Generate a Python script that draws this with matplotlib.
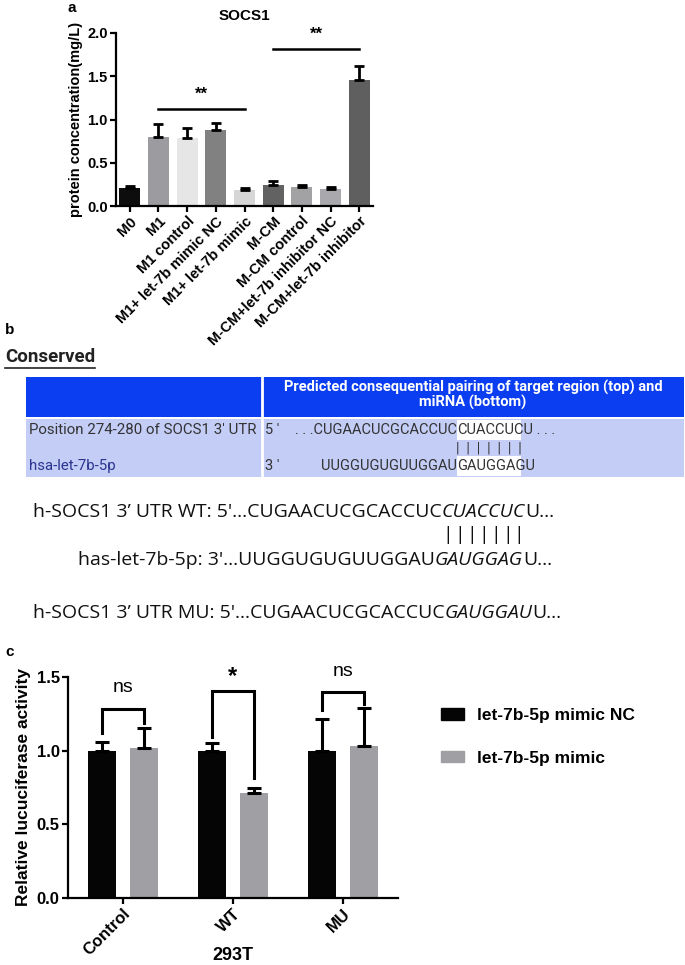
import numpy as np
import matplotlib
matplotlib.use('Agg')
import matplotlib.pyplot as plt
from matplotlib.patches import Rectangle, Patch

W, H = 685, 965

# panel a: SOCS1 protein
groups_a = ['M0', 'M1', 'M1 control', 'M1+ let-7b mimic NC', 'M1+ let-7b mimic',
            'M-CM', 'M-CM control', 'M-CM+let-7b inhibitor NC', 'M-CM+let-7b inhibitor']
socs1_mean = [0.21, 0.80, 0.79, 0.88, 0.19, 0.24, 0.22, 0.20, 1.46]
socs1_err = [0.02, 0.15, 0.11, 0.08, 0.02, 0.05, 0.02, 0.015, 0.16]
colors_a = ['#0d0d0d', '#9b9ba0', '#e6e6e6', '#818181', '#d6d6d6',
            '#626262', '#a2a2a4', '#a9a9ad', '#5f5f5f']
sig_a_pairs = [(1, 4), (5, 8)]
sig_a_y = [1.12, 1.81]
sig_a_labels = ['**', '**']

# panel b: sequences
table_header = 'Predicted consequential pairing of target region (top) and\nmiRNA (bottom)'
row_names = ["Position 274-280 of SOCS1 3' UTR", 'hsa-let-7b-5p']
row_ends = ["5 '", "3 '"]
row_seq = ['. . .CUGAACUCGCACCUC', 'UUGGUGUGUUGGAU']
row_seed = ['CUACCUCU', 'GAUGGAGU']
row_tail = [' . . .', '']
seq_lines = [
    ('h-SOCS1 3\u2019 UTR WT: 5\'...CUGAACUCGCACCUC', 'CUACCUC', 'U...'),
    ('has-let-7b-5p: 3\'...UUGGUGUGUUGGAU', 'GAUGGAG', 'U...'),
    ('h-SOCS1 3\u2019 UTR MU: 5\'...CUGAACUCGCACCUC', 'GAUGGAU', 'U...'),
]
n_pairs = 7

# panel c: luciferase
groups_c = ['Control', 'WT', 'MU']
nc_mean = [1.0, 1.0, 1.0]
nc_err = [0.06, 0.05, 0.215]
mimic_mean = [1.02, 0.71, 1.03]
mimic_err = [0.135, 0.035, 0.26]
bracket_left = [1.12, 1.09, 1.275]
bracket_top = [1.285, 1.405, 1.40]
bracket_right = [1.19, 0.815, 1.32]
sig_c_labels = ['ns', '*', 'ns']
sig_c_y = [1.43, 1.50, 1.54]

NARROW = ['Liberation Sans Narrow', 'Roboto', 'DejaVu Sans']
SANS = ['Liberation Sans', 'DejaVu Sans']
plt.rcParams['font.family'] = SANS

fig = plt.figure(figsize=(W / 100, H / 100), dpi=100)
canvas = fig.add_axes([0, 0, 1, 1])
canvas.set_xlim(0, W)
canvas.set_ylim(H, 0)
canvas.axis('off')


def px_axes(left, top, right, bottom):
    return fig.add_axes([left / W, 1 - bottom / H, (right - left) / W, (bottom - top) / H])


def style_axes(ax, fs):
    for s in ['top', 'right']:
        ax.spines[s].set_visible(False)
    for s in ['left', 'bottom']:
        ax.spines[s].set_linewidth(1.6)
    ax.tick_params(width=1.6, length=4, labelsize=fs, pad=2)
    for lab in ax.get_yticklabels():
        lab.set_fontweight('bold')


# ---------------- panel a
canvas.text(72, 8, 'a', fontsize=11, fontweight='bold', va='center', ha='center')
ax_a = px_axes(116, 33, 373, 206)
xa = np.arange(len(groups_a))
ax_a.bar(xa, socs1_mean, width=0.74, color=colors_a, zorder=2)
ax_a.errorbar(xa, socs1_mean, yerr=[np.zeros(len(xa)), socs1_err], fmt='none',
              ecolor='black', elinewidth=2, capsize=3.6, capthick=2, zorder=3)
ax_a.set_xlim(-0.48, len(groups_a) - 0.52)
ax_a.set_ylim(0, 2.0)
ax_a.set_yticks([0, 0.5, 1.0, 1.5, 2.0])
ax_a.set_yticklabels(['0.0', '0.5', '1.0', '1.5', '2.0'])
ax_a.set_xticks(xa)
ax_a.set_xticklabels(groups_a, rotation=45, ha='right', rotation_mode='anchor',
                     fontweight='bold', fontsize=9)
style_axes(ax_a, 10.5)
ax_a.set_ylabel('protein concentration(mg/L)', fontsize=10.5, fontweight='bold', labelpad=3)
ax_a.set_title('SOCS1', fontsize=11, fontweight='bold', pad=9)
for (i, j), yv, lab in zip(sig_a_pairs, sig_a_y, sig_a_labels):
    ax_a.plot([i, j], [yv, yv], color='black', lw=1.8, clip_on=False)
    ax_a.text((i + j) / 2, yv + 0.09, lab, ha='center', va='bottom', fontsize=12,
              fontweight='bold')

# ---------------- panel b
canvas.text(5, 330, 'b', fontsize=11, fontweight='bold', va='center')
cons = canvas.text(5, 357, 'Conserved', fontsize=13.5, fontweight='bold', va='center',
                   family=NARROW, color='#222222')
renderer = fig.canvas.get_renderer()
bb = cons.get_window_extent(renderer)
canvas.plot([5, bb.x1 * W / fig.bbox.width], [368, 368], color='#222222', lw=1.2)

blue = '#0b3ef0'
light = '#c3cdf6'
canvas.add_patch(Rectangle((26, 377), 658, 40, color=blue, lw=0))
canvas.add_patch(Rectangle((26, 419), 658, 58, color=light, lw=0))
canvas.plot([262, 262], [377, 477], color='white', lw=2)
canvas.text(473, 395, table_header, ha='center', va='center', color='white',
            fontsize=10.5, fontweight='bold', family=NARROW, linespacing=1.05)
row_y = [430, 466]
name_colors = ['#333333', '#2b3590']
for k in range(2):
    y = row_y[k]
    canvas.text(29, y, row_names[k], va='center', fontsize=10.8, family=NARROW,
                color=name_colors[k])
    canvas.text(265, y, row_ends[k], va='center', fontsize=10.5, family=NARROW, color='#333333')
    canvas.text(457, y, row_seq[k], va='center', ha='right', fontsize=10.5, family=NARROW,
                color='#333333')
    canvas.add_patch(Rectangle((457, y - 10), 64, 20, color='white', lw=0))
    seed = canvas.text(457, y, row_seed[k], va='center', ha='left', fontsize=10.5,
                       family=NARROW, color='#333333')
    if row_tail[k]:
        canvas.annotate(row_tail[k], xy=(1, 0.5), xycoords=seed, va='center',
                        fontsize=10.5, family=NARROW, color='#333333')
canvas.text(489, 449, '|  |  |  |  |  |  |', ha='center', va='center', fontsize=10,
            family=NARROW, color='#333333')

seq_x = [33, 78, 33]
seq_y = [517, 565, 618]
SEQF = ['Open Sans', 'DejaVu Sans']
italic_parts = []
for (pre, ital, post), x0, y0 in zip(seq_lines, seq_x, seq_y):
    t1 = canvas.text(x0, y0, pre, fontsize=14, family=SEQF, va='baseline', color='#111111')
    t2 = canvas.annotate(ital, xy=(1, 0), xycoords=t1, va='bottom', ha='left',
                         fontsize=14, family=SEQF, style='italic', color='#111111')
    canvas.annotate(post, xy=(1, 0), xycoords=t2, va='bottom', ha='left',
                    fontsize=14, family=SEQF, color='#111111')
    italic_parts.append(t2)
for k in range(n_pairs):
    canvas.annotate('|', xy=((k + 0.5) / n_pairs, 535),
                    xycoords=(italic_parts[0], canvas.transData),
                    ha='center', va='center', fontsize=14, family=SEQF, color='#111111')

# ---------------- panel c
canvas.text(5, 652, 'c', fontsize=11, fontweight='bold', va='center')
ax_c = px_axes(68, 677, 398, 898)
xc = np.arange(len(groups_c))
off, bw = 0.19, 0.26
ax_c.bar(xc - off, nc_mean, width=bw, color='#050505', zorder=2, label='let-7b-5p mimic NC')
ax_c.bar(xc + off, mimic_mean, width=bw, color='#a0a0a4', zorder=2, label='let-7b-5p mimic')
ax_c.errorbar(xc - off, nc_mean, yerr=[np.zeros(3), nc_err], fmt='none', ecolor='black',
              elinewidth=2.2, capsize=5, capthick=2.2, zorder=3)
ax_c.errorbar(xc + off, mimic_mean, yerr=[np.zeros(3), mimic_err], fmt='none', ecolor='black',
              elinewidth=2.2, capsize=5, capthick=2.2, zorder=3)
for i in range(len(groups_c)):
    ax_c.plot([i - off, i - off, i + off, i + off],
              [bracket_left[i], bracket_top[i], bracket_top[i], bracket_right[i]],
              color='black', lw=2.2, clip_on=False, solid_joinstyle='miter')
    star = sig_c_labels[i] == '*'
    ax_c.text(i, sig_c_y[i], sig_c_labels[i], ha='center', va='center',
              fontsize=17 if star else 14, fontweight='bold' if star else 'normal',
              clip_on=False)
ax_c.set_xlim(-0.5, 2.5)
ax_c.set_ylim(0, 1.5)
ax_c.set_yticks([0, 0.5, 1.0, 1.5])
ax_c.set_yticklabels(['0.0', '0.5', '1.0', '1.5'])
ax_c.set_xticks(xc)
ax_c.set_xticklabels(groups_c, rotation=45, ha='right', rotation_mode='anchor',
                     fontweight='bold', fontsize=12.5)
style_axes(ax_c, 12)
ax_c.set_ylabel('Relative lucuciferase activity', fontsize=12.5, fontweight='bold', labelpad=4)
canvas.text(233, 955, '293T', ha='center', va='center', fontsize=13, fontweight='bold')
ax_c.legend(handles=[Patch(color='#050505'), Patch(color='#a0a0a4')],
            labels=['let-7b-5p mimic NC', 'let-7b-5p mimic'],
            loc='upper left', bbox_to_anchor=(441 / W, 1 - 708 / H),
            bbox_transform=fig.transFigure, frameon=False,
            prop={'weight': 'bold', 'size': 12.5}, handlelength=1.3, handleheight=0.65,
            handletextpad=0.75, labelspacing=1.6, borderpad=0, borderaxespad=0)

fig.savefig('out.png', dpi=100)
